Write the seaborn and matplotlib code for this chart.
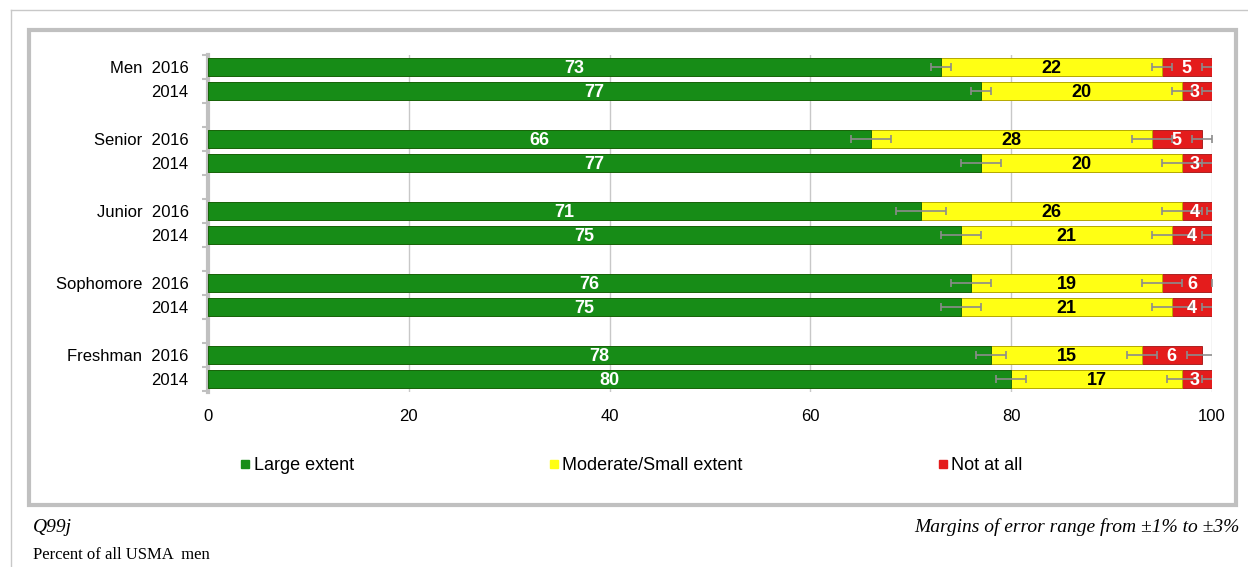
import numpy as np
import pandas as pd
import matplotlib.pyplot as plt
import seaborn as sns
from matplotlib.patches import Rectangle
from matplotlib.lines import Line2D

# data
row_labels = ["Men  2016", "2014", "Senior  2016", "2014", "Junior  2016", "2014",
              "Sophomore  2016", "2014", "Freshman  2016", "2014"]
positions = [0, 1, 3, 4, 6, 7, 9, 10, 12, 13]
large = [73, 77, 66, 77, 71, 75, 76, 75, 78, 80]
moderate = [22, 20, 28, 20, 26, 21, 19, 21, 15, 17]
not_at_all = [5, 3, 5, 3, 4, 4, 6, 4, 6, 3]
err_large = [1, 1, 2, 2, 2.5, 2, 2, 2, 1.5, 1.5]
err_moderate = [1, 1, 2, 2, 2, 2, 2, 2, 1.5, 1.5]
err_not = [1, 1, 1, 1.5, 1.5, 1, 1, 1, 1.5, 1]

series = ["Large extent", "Moderate/Small extent", "Not at all"]
colors = ["#178c17", "#ffff14", "#e41c1c"]

plt.rcParams["font.family"] = ["Liberation Sans", "DejaVu Sans"]

df = pd.DataFrame({"pos": positions, "large": large, "moderate": moderate, "not": not_at_all})
df["cum2"] = df["large"] + df["moderate"]
df["cum3"] = df["cum2"] + df["not"]

fig = plt.figure(figsize=(12.48, 5.67), dpi=100)
ax = fig.add_axes([208 / 1248, 1 - 392 / 567, 1004 / 1248, 337 / 567])

# stacked bars drawn back to front
sns.barplot(data=df, x="cum3", y="pos", orient="y", native_scale=True, color=colors[2],
            width=0.75, saturation=1, edgecolor="#a01010", linewidth=0.6, ax=ax, zorder=3)
sns.barplot(data=df, x="cum2", y="pos", orient="y", native_scale=True, color=colors[1],
            width=0.75, saturation=1, edgecolor="#b0b000", linewidth=0.6, ax=ax, zorder=3)
sns.barplot(data=df, x="large", y="pos", orient="y", native_scale=True, color=colors[0],
            width=0.75, saturation=1, edgecolor="#0a5a0a", linewidth=0.6, ax=ax, zorder=3)

# error bars at segment ends
for xcol, err in [("large", err_large), ("cum2", err_moderate), ("cum3", err_not)]:
    ax.errorbar(df[xcol], df["pos"], xerr=err, fmt="none", ecolor="#8c8c8c",
                elinewidth=1.2, capsize=3, capthick=1.2, zorder=4)

# value labels
for _, r in df.iterrows():
    ax.text(r["large"] / 2, r["pos"], f"{r['large']:.0f}", ha="center", va="center_baseline",
            color="white", fontsize=13, fontweight="bold", zorder=5)
    ax.text(r["large"] + r["moderate"] / 2, r["pos"], f"{r['moderate']:.0f}", ha="center",
            va="center_baseline", color="black", fontsize=13, fontweight="bold", zorder=5)
    ax.text(min(r["cum2"] + r["not"] / 2, 98.3), r["pos"], f"{r['not']:.0f}", ha="center",
            va="center_baseline", color="white", fontsize=13, fontweight="bold", zorder=5)

ax.set_xlim(0, 100)
ax.set_ylim(13.55, -0.5)
ax.set_xticks([0, 20, 40, 60, 80, 100])
ax.set_xticklabels(["0", "20", "40", "60", "80", "100"], fontsize=12)
ax.set_yticks(positions)
ax.set_yticklabels(row_labels, fontsize=12)
ax.set_yticks(np.arange(-0.5, 14, 1), minor=True)
ax.tick_params(axis="y", which="major", length=0, pad=14)
ax.tick_params(axis="y", which="minor", length=4, width=1.5, color="#c0c0c0")
ax.tick_params(axis="x", length=0, pad=12)
ax.set_xlabel("")
ax.set_ylabel("")
ax.grid(axis="x", color="#c8c8c8", linewidth=1, zorder=0)
ax.set_axisbelow(True)
for s in ["top", "right", "bottom"]:
    ax.spines[s].set_visible(False)
ax.spines["left"].set_color("#c0c0c0")
ax.spines["left"].set_linewidth(3)

# legend
handles = [Line2D([], [], marker="s", linestyle="none", markersize=6, markerfacecolor=c,
                  markeredgecolor=c) for c in colors]
fig.legend(handles, series, loc="center left", bbox_to_anchor=(222 / 1248, 1 - 466 / 567),
           ncol=3, frameon=False, fontsize=13, handletextpad=0.05, columnspacing=10.7,
           handlelength=0.8)

# frames
fig.add_artist(Rectangle((29 / 1248, 1 - 505 / 567), 1207 / 1248, 475 / 567, fill=False,
                         edgecolor="#c0c0c0", linewidth=3, transform=fig.transFigure))
fig.add_artist(Line2D([11 / 1248, 11 / 1248], [0, 1 - 10 / 567], color="#c8c8c8", linewidth=1))
fig.add_artist(Line2D([11 / 1248, 1], [1 - 10 / 567, 1 - 10 / 567], color="#c8c8c8", linewidth=1))

# footer
fig.text(33 / 1248, 1 - 527 / 567, "Q99j", fontsize=14, style="italic",
         family="Liberation Serif", va="center")
fig.text(1240 / 1248, 1 - 527 / 567, "Margins of error range from ±1% to ±3%", fontsize=14,
         style="italic", family="Liberation Serif", va="center", ha="right")
fig.text(33 / 1248, 1 - 555 / 567, "Percent of all USMA  men", fontsize=12,
         family="Liberation Serif", va="center")

fig.savefig("out.png", dpi=100)
